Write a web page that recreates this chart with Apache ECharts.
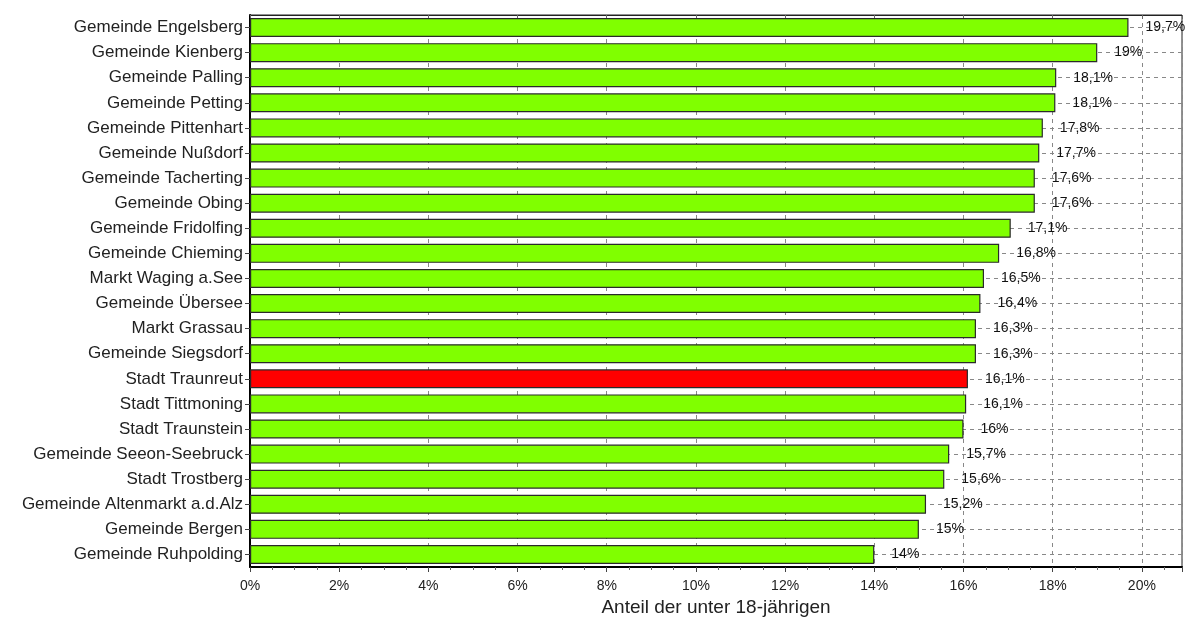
<!DOCTYPE html>
<html>
<head>
<meta charset="utf-8">
<script src="https://cdn.jsdelivr.net/npm/echarts@6/dist/echarts.min.js"></script>
<style>html,body{margin:0;padding:0;background:#fff;}#c{width:1192px;height:620px;}</style>
</head>
<body>
<div id="c"></div>
<script>
const categories = [
  "Gemeinde Engelsberg","Gemeinde Kienberg","Gemeinde Palling","Gemeinde Petting",
  "Gemeinde Pittenhart","Gemeinde Nußdorf","Gemeinde Tacherting","Gemeinde Obing",
  "Gemeinde Fridolfing","Gemeinde Chieming","Markt Waging a.See","Gemeinde Übersee",
  "Markt Grassau","Gemeinde Siegsdorf","Stadt Traunreut","Stadt Tittmoning",
  "Stadt Traunstein","Gemeinde Seeon-Seebruck","Stadt Trostberg","Gemeinde Altenmarkt a.d.Alz",
  "Gemeinde Bergen","Gemeinde Ruhpolding"
];
const values = [19.7,19.0,18.08,18.06,17.78,17.7,17.6,17.6,17.06,16.8,16.46,16.38,16.28,16.28,16.1,16.06,16.0,15.68,15.57,15.16,15.0,14.0];
const highlight = "Stadt Traunreut";
const xTicks = [0,2,4,6,8,10,12,14,16,18,20];

const fmt = v => {
  const r = Math.round(v * 10) / 10;
  return (Number.isInteger(r) ? String(r) : r.toFixed(1).replace('.', ',')) + '%';
};

const cats = categories.slice().reverse();
const vals = values.slice().reverse();

const chart = echarts.init(document.getElementById('c'), null, {renderer: 'canvas'});
const font = "'Liberation Sans', Arial, sans-serif";
chart.setOption({
  animation: false,
  grid: {left: 250, right: 10, top: 15, bottom: 53, show: true, borderColor: '#222', borderWidth: 1,
    backgroundColor: 'transparent', containLabel: false, outerBoundsMode: 'none'},
  xAxis: [{
    type: 'value', min: 0, max: 20.9, interval: 2,
    name: 'Anteil der unter 18-jährigen', nameLocation: 'middle', nameGap: 31,
    nameTextStyle: {fontFamily: font, fontSize: 19, color: '#222'},
    axisLine: {show: true, onZero: false, lineStyle: {color: '#000', width: 2}},
    axisTick: {show: true, length: 5, lineStyle: {color: '#444'}},
    minorTick: {show: true, splitNumber: 4, length: 3, lineStyle: {color: '#666'}},
    axisLabel: {fontFamily: font, fontSize: 14, color: '#222', margin: 12,
      formatter: v => xTicks.includes(v) ? v + '%' : ''},
    splitLine: {show: true, lineStyle: {color: '#888', type: [4, 4], width: 1}}
  }, {
    type: 'value', position: 'top', min: 0, max: 20.9, interval: 2,
    axisLine: {show: true, lineStyle: {color: '#222', width: 1}},
    axisTick: {show: true, inside: true, length: 4, lineStyle: {color: '#666'}},
    axisLabel: {show: false}, splitLine: {show: false}
  }],
  yAxis: {
    type: 'category', data: cats,
    axisLine: {show: true, lineStyle: {color: '#000', width: 2}},
    axisTick: {show: true, alignWithLabel: true, length: 5, interval: 0, lineStyle: {color: '#444'}},
    axisLabel: {fontFamily: font, fontSize: 17, color: '#222', margin: 7, interval: 0},
    splitLine: {show: true, alignWithLabel: true, interval: 0, lineStyle: {color: '#888', type: [4, 4], width: 1}}
  },
  series: [{
    type: 'bar', data: vals.map((v, i) => ({
      value: v,
      itemStyle: {color: cats[i] === highlight ? '#ff0000' : '#80ff00'}
    })),
    barWidth: 19,
    itemStyle: {borderColor: '#2a2a2a', borderWidth: 1.2},
    label: {show: true, position: 'right', distance: 17, fontFamily: font, fontSize: 14, color: '#111',
      formatter: p => fmt(p.value)}
  }]
});
</script>
</body>
</html>
